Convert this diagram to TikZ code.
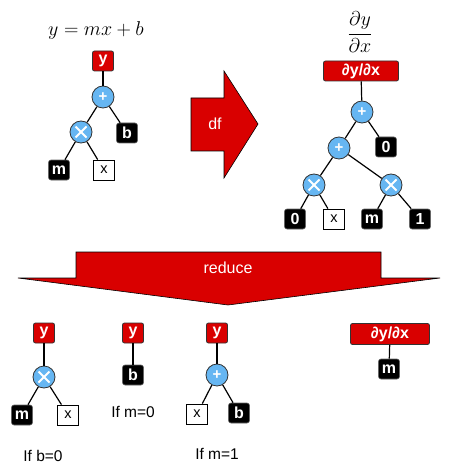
\RequirePackage{fix-cm}
\documentclass[tikz,border=0pt]{standalone}
\usepackage{fontspec}
\setmainfont{Liberation Sans}
\begin{document}
\begin{tikzpicture}[x=1pt,y=-1pt,
  lbl/.style={font=\fontsize{16}{16}\selectfont\bfseries},
  redbox/.style={lbl,draw=black!80,line width=0.8pt,fill=red!85!black,text=white,rounded corners=2pt,minimum width=21pt,minimum height=20pt,inner sep=0pt},
  blkbox/.style={lbl,draw=black!60,line width=0.6pt,fill=black,text=white,rounded corners=2.5pt,minimum width=21pt,minimum height=20pt,inner sep=0pt},
  whtbox/.style={draw=black,line width=0.8pt,fill=white,text=black,minimum width=21pt,minimum height=20pt,inner sep=0pt,font=\fontsize{14.5}{14.5}\selectfont},
  opplus/.style={circle,draw=black!80,line width=0.8pt,fill=bluec,text=white,minimum size=22pt,inner sep=0pt,font=\fontsize{15}{15}\selectfont\bfseries},
  optimes/.style={circle,draw=black!80,line width=0.8pt,fill=bluec,minimum size=22pt,inner sep=0pt,
    path picture={\draw[white,line width=1.8pt] ([xshift=-5.5pt,yshift=-5.5pt]path picture bounding box.center) -- ([xshift=5.5pt,yshift=5.5pt]path picture bounding box.center);
                  \draw[white,line width=1.8pt] ([xshift=-5.5pt,yshift=5.5pt]path picture bounding box.center) -- ([xshift=5.5pt,yshift=-5.5pt]path picture bounding box.center);}},
  edge/.style={line width=1.2pt,black},
  cond/.style={font=\fontsize{15.5}{15.5}\selectfont},
  eqn/.style={font=\fontsize{20}{20}\selectfont},
  bigarrow/.style={fill=red!85!black,draw=black,line width=0.6pt,line join=miter},
  arrlbl/.style={text=white,font=\fontsize{16}{16}\selectfont}
]
\definecolor{bluec}{HTML}{66B6F2}
\useasboundingbox (0,0) rectangle (449,473);

% top-left tree
\node[eqn] (eq1) at (96,31) {$y=mx+b$};
\node[redbox] (y1) at (103,61) {y};
\node[opplus] (p1) at (103,97) {+};
\node[optimes] (t1) at (81,132) {};
\node[blkbox] (b1) at (127,133) {b};
\node[blkbox] (m1) at (59,170) {m};
\node[whtbox] (x1) at (104,170) {x};
\draw[edge] (y1) -- (p1);
\draw[edge] (p1) -- (t1);
\draw[edge] (p1) -- (b1);
\draw[edge] (t1) -- (m1);
\draw[edge] (t1) -- (x1);

% df arrow
\draw[bigarrow] (191,98) -- (224,98) -- (224,71) -- (258,124) -- (224,178) -- (224,151) -- (191,151) -- cycle;
\node[arrlbl] (df) at (215,124) {df};

% top-right tree
\node[eqn] (eq2) at (360,32) {$\displaystyle\frac{\partial y}{\partial x}$};
\node[redbox,minimum width=75pt] (d2) at (361,71) {∂y/∂x};
\node[opplus] (p2) at (362,112) {+};
\node[blkbox] (z2) at (386,147) {0};
\node[opplus] (p3) at (339,148) {+};
\node[optimes] (t2) at (314,185) {};
\node[optimes] (t3) at (391,185) {};
\node[blkbox] (z3) at (295,219) {0};
\node[whtbox] (x2) at (334,219) {x};
\node[blkbox] (m2) at (372,219) {m};
\node[blkbox] (o2) at (420,219) {1};
\draw[edge] (d2) -- (p2);
\draw[edge] (p2) -- (p3);
\draw[edge] (p2) -- (z2);
\draw[edge] (p3) -- (t2);
\draw[edge] (p3) -- (t3);
\draw[edge] (t2) -- (z3);
\draw[edge] (t2) -- (x2);
\draw[edge] (t3) -- (m2);
\draw[edge] (t3) -- (o2);

% reduce arrow
\draw[bigarrow] (76,252) -- (381,252) -- (381,278) -- (440,278) -- (228,305) -- (18,278) -- (76,278) -- cycle;
\node[arrlbl] (red) at (228,268) {reduce};

% bottom tree 1
\node[redbox] (y3) at (44,333) {y};
\node[optimes] (t4) at (44,377) {};
\node[blkbox] (m3) at (22,415) {m};
\node[whtbox] (x3) at (68,415) {x};
\node[cond] (c1) at (43,456) {If b=0};
\draw[edge] (y3) -- (t4);
\draw[edge] (t4) -- (m3);
\draw[edge] (t4) -- (x3);

% bottom tree 2
\node[redbox] (y4) at (133,333) {y};
\node[blkbox] (b4) at (133,375) {b};
\node[cond] (c2) at (133,412) {If m=0};
\draw[edge] (y4) -- (b4);

% bottom tree 3
\node[redbox] (y5) at (217,333) {y};
\node[opplus] (p5) at (217,375) {+};
\node[whtbox] (x5) at (197,414) {x};
\node[blkbox] (b5) at (239,413) {b};
\node[cond] (c3) at (217,454) {If m=1};
\draw[edge] (y5) -- (p5);
\draw[edge] (p5) -- (x5);
\draw[edge] (p5) -- (b5);

% bottom right
\node[redbox,minimum width=79pt,minimum height=21pt] (d6) at (390,334) {∂y/∂x};
\node[blkbox] (m6) at (389,369) {m};
\draw[edge] (d6) -- (m6);
\end{tikzpicture}
\end{document}
